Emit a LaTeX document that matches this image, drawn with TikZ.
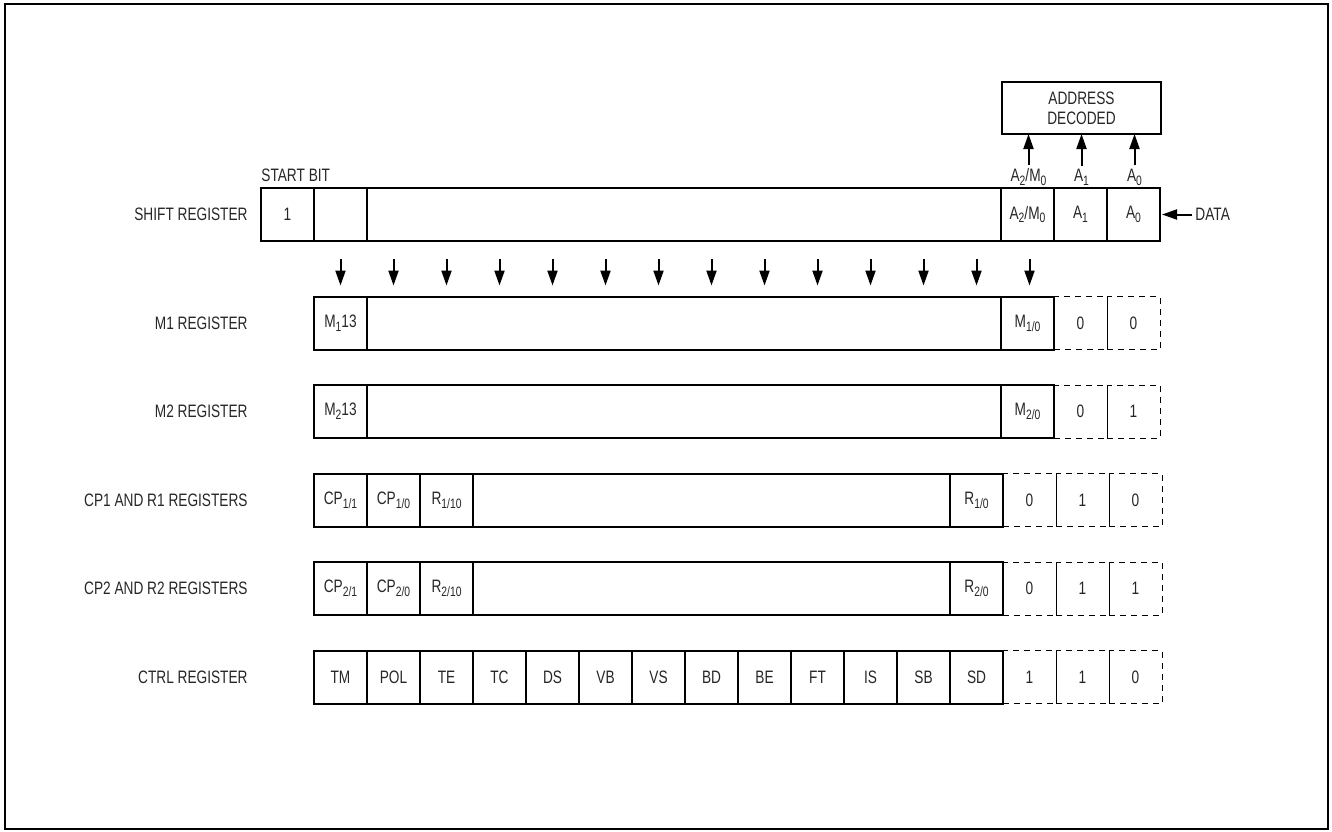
\documentclass[tikz,border=0pt]{standalone}
\usepackage{fontspec}
\setmainfont[FakeStretch=0.76]{Liberation Sans}
\usetikzlibrary{arrows.meta, positioning}
\newcommand{\lsub}[1]{\raisebox{-0.4ex}{\fontsize{6.8}{6.8}\selectfont #1}}
\tikzset{
	cell/.style    ={rectangle, draw=black, line width=1pt, minimum width=26.5pt, minimum height=26.5pt, inner sep=0pt, outer sep=0pt, align=center},
	wide/.style    ={cell, minimum width=#1},
	ghost/.style   ={cell, line width=0.5pt, dash pattern=on 3pt off 2.5pt},
	rowlabel/.style={anchor=east, inner sep=0pt},
	bitarrow/.style={-{Triangle[length=7.5pt, width=5pt]}, line width=1pt},
}
\begin{document}
\begin{tikzpicture}[x=0.5pt, y=-0.5pt, node distance=0pt, every node/.style={font=\fontsize{9}{10}\selectfont, text=black!85}]
	\useasboundingbox (0,0) rectangle (1332,831);
	\draw[line width=1pt] (5,4) rectangle (1328,829);
	% row labels
	\node[rowlabel] (lshift) at (248,214.5) {SHIFT REGISTER};
	\node[rowlabel] (lm1) at (248,323) {M1 REGISTER};
	\node[rowlabel] (lm2) at (248,411.5) {M2 REGISTER};
	\node[rowlabel] (lcp1) at (248,500) {CP1 AND R1 REGISTERS};
	\node[rowlabel] (lcp2) at (248,588.5) {CP2 AND R2 REGISTERS};
	\node[rowlabel] (lctrl) at (248,677) {CTRL REGISTER};
	\node[anchor=base west, inner sep=0pt] (lstart) at (261,181) {START BIT};
	% shift register
	\node[cell] (s1) at (287.5,214.5) {1};
	\node[cell, right=of s1] (s2) {};
	\node[wide=317pt, right=of s2] (s3) {};
	\node[cell, right=of s3] (s4) {A\lsub{2}/M\lsub{0}};
	\node[cell, right=of s4] (s5) {A\lsub{1}};
	\node[cell, right=of s5] (s6) {A\lsub{0}};
	% address decoder
	\node[cell, minimum width=79.5pt, minimum height=26pt] (adr) at (1081.5,108) {ADDRESS\\ DECODED};
	\node[inner sep=1.5pt] (la2) at (1028.5,177) {A\lsub{2}/M\lsub{0}};
	\node[inner sep=1.5pt] (la1) at (1081.5,177) {A\lsub{1}};
	\node[inner sep=1.5pt] (la0) at (1134.5,177) {A\lsub{0}};
	\draw[bitarrow] (la2.north) -- (la2.north |- adr.south);
	\draw[bitarrow] (la1.north) -- (la1.north |- adr.south);
	\draw[bitarrow] (la0.north) -- (la0.north |- adr.south);
	\node[anchor=west, inner sep=0pt] (data) at (1195,214.5) {DATA};
	\draw[bitarrow, shorten <=1.5pt, shorten >=1pt] (data.west) -- (s6.east);
	% M1 register
	\node[cell] (m1a) at (340.5,323) {M\lsub{1}13};
	\node[wide=317pt, right=of m1a] (m1b) {};
	\node[cell, right=of m1b] (m1c) {M\lsub{1/0}};
	\node[ghost, right=of m1c] (m1d) {0};
	\node[ghost, right=of m1d] (m1e) {0};
	% M2 register
	\node[cell] (m2a) at (340.5,411.5) {M\lsub{2}13};
	\node[wide=317pt, right=of m2a] (m2b) {};
	\node[cell, right=of m2b] (m2c) {M\lsub{2/0}};
	\node[ghost, right=of m2c] (m2d) {0};
	\node[ghost, right=of m2d] (m2e) {1};
	% CP1 / R1
	\node[cell] (p1a) at (340.5,500) {CP\lsub{1/1}};
	\node[cell, right=of p1a] (p1b) {CP\lsub{1/0}};
	\node[cell, right=of p1b] (p1c) {R\lsub{1/10}};
	\node[wide=238.5pt, right=of p1c] (p1d) {};
	\node[cell, right=of p1d] (p1e) {R\lsub{1/0}};
	\node[ghost, right=of p1e] (p1f) {0};
	\node[ghost, right=of p1f] (p1g) {1};
	\node[ghost, right=of p1g] (p1h) {0};
	% CP2 / R2
	\node[cell] (p2a) at (340.5,588.5) {CP\lsub{2/1}};
	\node[cell, right=of p2a] (p2b) {CP\lsub{2/0}};
	\node[cell, right=of p2b] (p2c) {R\lsub{2/10}};
	\node[wide=238.5pt, right=of p2c] (p2d) {};
	\node[cell, right=of p2d] (p2e) {R\lsub{2/0}};
	\node[ghost, right=of p2e] (p2f) {0};
	\node[ghost, right=of p2f] (p2g) {1};
	\node[ghost, right=of p2g] (p2h) {1};
	% CTRL register
	\foreach \t [count=\i] in {TM,POL,TE,TC,DS,VB,VS,BD,BE,FT,IS,SB,SD}
		\node[cell] (c\i) at ({287.5+53*\i},677) {\t};
	\node[ghost, right=of c13] (c14) {1};
	\node[ghost, right=of c14] (c15) {1};
	\node[ghost, right=of c15] (c16) {0};
	% load arrows
	\foreach \i in {1,...,14} {
		\coordinate (t\i) at ({287.5+53*\i},259);
		\draw[bitarrow, shorten >=5.5pt] (t\i) -- (t\i |- m1a.north);
	}
\end{tikzpicture}
\end{document}
